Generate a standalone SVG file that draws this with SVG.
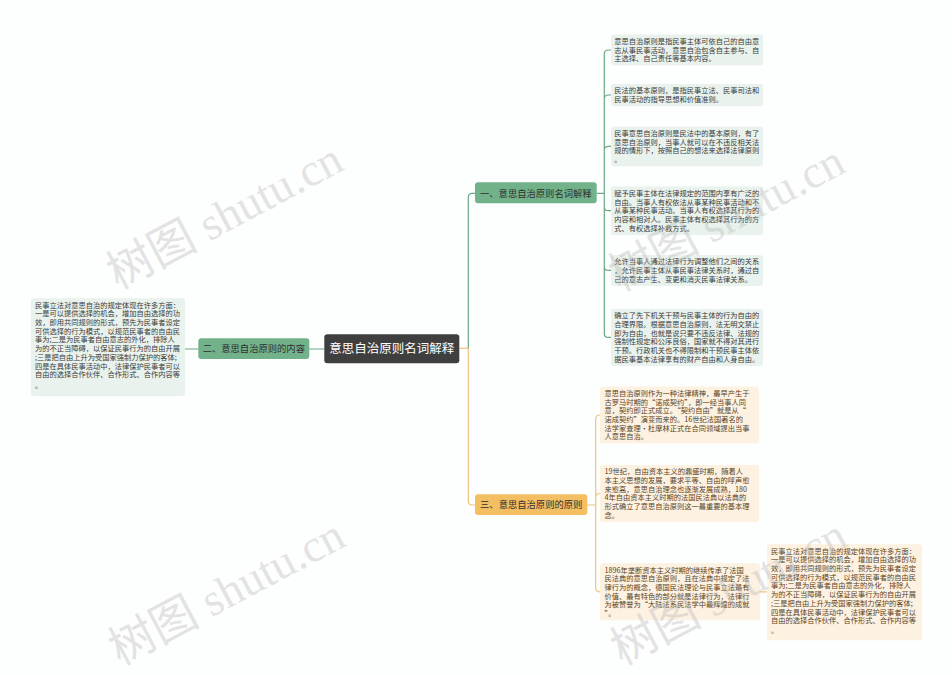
<svg xmlns="http://www.w3.org/2000/svg" width="952" height="675" viewBox="0 0 952 675">
<style>
.t{font-family:"Noto Sans CJK SC","Noto Sans",sans-serif;font-size:7.25px}
.tg{fill:#3a3a3a}
.to{fill:#5a4322}
.lg{fill:#e9f2ec}
.lo{fill:#fdf1e1}
.bt{font-family:"Noto Sans CJK SC","Noto Sans",sans-serif;font-size:9.3px;fill:#2f2f2f;text-anchor:middle}
.cg{fill:none;stroke:#6aa886;stroke-width:1.2}
.co{fill:none;stroke:#efc47e;stroke-width:1.2}
.wm{font-family:"Liberation Serif","Noto Sans CJK SC",serif;font-size:46px;fill:#b8b8b8;fill-opacity:0.4}
</style>
<rect width="952" height="675" fill="#fdfefe"/>
<g id="connectors">
<path class="co" d="M459.3,348.3 H468.3"/>
<path class="cg" d="M468.3,348.3 V197.3 Q468.3,193.3 472.3,193.3 H475"/>
<path class="co" d="M468.3,348.3 V501 Q468.3,505 472.3,505 H475"/>
<path class="cg" d="M324.3,349 H309.3 M198.3,349 H184.7"/>
<path class="cg" d="M596.7,193.3 H604.3 M604.3,193.3 V54 Q604.3,50 608.3,50 H611 M604.3,193.3 V99 Q604.3,95 608.3,95 H611 M604.3,193.3 V150.3 Q604.3,146.3 608.3,146.3 H611 M604.3,193.3 V206.7 Q604.3,210.7 608.3,210.7 H611 M604.3,193.3 V266.4 Q604.3,270.4 608.3,270.4 H611 M604.3,193.3 V333.4 Q604.3,337.4 608.3,337.4 H611"/>
<path class="co" d="M587.3,505 H595.7 M595.7,505 V419 Q595.7,415 599.7,415 H600 M595.7,505 V497.5 Q595.7,493.5 599.7,493.5 H600 M595.7,505 V587.8 Q595.7,591.8 599.7,591.8 H600 M760,591.8 H767"/>
</g>
<g id="center">
<rect x="324.3" y="334.3" width="135" height="29" rx="3" fill="#3f3f3f"/>
<text x="391.8" y="353.4" font-family="Noto Sans CJK SC,Noto Sans,sans-serif" font-size="12.5" fill="#ffffff" text-anchor="middle">意思自治原则名词解释</text>
</g>
<g id="branch1">
<rect x="475" y="182.3" width="121.7" height="21" rx="3" fill="#72b28a"/>
<text class="bt" x="535.8" y="196.6">一、意思自治原则名词解释</text>
</g>
<g id="branch2">
<rect x="198.3" y="338.3" width="111" height="20.7" rx="3" fill="#72b28a"/>
<text class="bt" x="253.8" y="352.3">二、意思自治原则的内容</text>
</g>
<g id="branch3">
<rect x="475" y="494.3" width="112.3" height="20.7" rx="3" fill="#f4be62"/>
<text class="bt" x="531.2" y="508.3">三、意思自治原则的原则</text>
</g>
<g id="leaf1">
<rect class="lg" x="611" y="34.5" width="152" height="31" rx="3"/>
<text class="t tg"><tspan x="614.3" y="43.9">意思自治原则是指民事主体可依自己的自由意</tspan><tspan x="614.3" y="52.6">志从事民事活动，意思自治包含自主参与、自</tspan><tspan x="614.3" y="61.3">主选择、自己责任等基本内容。</tspan></text>
</g>
<g id="leaf2">
<rect class="lg" x="611" y="83.9" width="152" height="22.3" rx="3"/>
<text class="t tg"><tspan x="614.3" y="93.3">民法的基本原则，是指民事立法、民事司法和</tspan><tspan x="614.3" y="102">民事活动的指导思想和价值准则。</tspan></text>
</g>
<g id="leaf3">
<rect class="lg" x="611" y="126.5" width="152" height="39.7" rx="3"/>
<text class="t tg"><tspan x="614.3" y="135.9">民事意思自治原则是民法中的基本原则，有了</tspan><tspan x="614.3" y="144.6">意思自治原则，当事人就可以在不违反相关法</tspan><tspan x="614.3" y="153.3">规的情形下，按照自己的想法来选择法律原则</tspan><tspan x="614.3" y="162">。</tspan></text>
</g>
<g id="leaf4">
<rect class="lg" x="611" y="186.5" width="152" height="48.4" rx="3"/>
<text class="t tg"><tspan x="614.3" y="195.9">赋予民事主体在法律规定的范围内享有广泛的</tspan><tspan x="614.3" y="204.6">自由。当事人有权依法从事某种民事活动和不</tspan><tspan x="614.3" y="213.3">从事某种民事活动。当事人有权选择其行为的</tspan><tspan x="614.3" y="222">内容和相对人。民事主体有权选择其行为的方</tspan><tspan x="614.3" y="230.7">式、有权选择补救方式。</tspan></text>
</g>
<g id="leaf5">
<rect class="lg" x="611" y="254.9" width="152" height="31" rx="3"/>
<text class="t tg"><tspan x="614.3" y="264.3">允许当事人通过法律行为调整他们之间的关系</tspan><tspan x="614.3" y="273">，允许民事主体从事民事法律关系时，通过自</tspan><tspan x="614.3" y="281.7">己的意志产生、变更和消灭民事法律关系。</tspan></text>
</g>
<g id="leaf6">
<rect class="lg" x="611" y="308.9" width="152" height="57.1" rx="3"/>
<text class="t tg"><tspan x="614.3" y="318.3">确立了先下机关干预与民事主体的行为自由的</tspan><tspan x="614.3" y="327">合理界限。根据意思自治原则，法无明文禁止</tspan><tspan x="614.3" y="335.7">即为自由，也就是说只要不违反法律、法规的</tspan><tspan x="614.3" y="344.4">强制性规定和公序良俗，国家就不得对其进行</tspan><tspan x="614.3" y="353.1">干预。行政机关也不得限制和干预民事主体依</tspan><tspan x="614.3" y="361.8">据民事基本法律享有的财产自由和人身自由。</tspan></text>
</g>
<g id="leaf7">
<rect class="lo" x="600" y="386.5" width="159" height="57.1" rx="3"/>
<text class="t to"><tspan x="604.5" y="395.9">意思自治原则作为一种法律精神，最早产生于</tspan><tspan x="604.5" y="404.6">古罗马时期的“诺成契约”，即一经当事人同</tspan><tspan x="604.5" y="413.3">意，契约即正式成立。“契约自由”就是从“</tspan><tspan x="604.5" y="422">诺成契约”演变而来的。16世纪法国著名的</tspan><tspan x="604.5" y="430.7">法学家查理·杜摩林正式在合同领域提出当事</tspan><tspan x="604.5" y="439.4">人意思自治。</tspan></text>
</g>
<g id="leaf8">
<rect class="lo" x="600" y="464.9" width="159" height="57.1" rx="3"/>
<text class="t to"><tspan x="604.5" y="474.3">19世纪，自由资本主义的鼎盛时期，随着人</tspan><tspan x="604.5" y="483">本主义思想的发展，要求平等、自由的呼声愈</tspan><tspan x="604.5" y="491.7">来愈高，意思自治理念也逐渐发展成熟，180</tspan><tspan x="604.5" y="500.4">4年自由资本主义时期的法国民法典以法典的</tspan><tspan x="604.5" y="509.1">形式确立了意思自治原则这一最重要的基本理</tspan><tspan x="604.5" y="517.8">念。</tspan></text>
</g>
<g id="leaf9">
<rect class="lo" x="600" y="563.2" width="160" height="57.1" rx="3"/>
<text class="t to"><tspan x="604.5" y="572.6">1896年垄断资本主义时期的继续传承了法国</tspan><tspan x="604.5" y="581.3">民法典的意思自治原则，且在法典中规定了法</tspan><tspan x="604.5" y="590">律行为的概念，德国民法理论与民事立法最有</tspan><tspan x="604.5" y="598.7">价值、最有特色的部分就是法律行为，法律行</tspan><tspan x="604.5" y="607.4">为被赞誉为“大陆法系民法学中最辉煌的成就</tspan><tspan x="604.5" y="616.1">”。</tspan></text>
</g>
<g id="leaf10">
<rect class="lo" x="767" y="544.2" width="155" height="96" rx="3"/>
<text class="t to"><tspan x="771" y="553.6">民事立法对意思自治的规定体现在许多方面：</tspan><tspan x="771" y="562.3">一是可以提供选择的机会，增加自由选择的功</tspan><tspan x="771" y="571">效，即用共同规则的形式，预先为民事者设定</tspan><tspan x="771" y="579.7">可供选择的行为模式，以规范民事者的自由民</tspan><tspan x="771" y="588.4">事为;二是为民事者自由意志的外化，排除人</tspan><tspan x="771" y="597.1">为的不正当障碍，以保证民事行为的自由开展</tspan><tspan x="771" y="605.8">;三是把自由上升为受国家强制力保护的客体;</tspan><tspan x="771" y="614.5">四是在具体民事活动中，法律保护民事者可以</tspan><tspan x="771" y="623.2">自由的选择合作伙伴、合作形式、合作内容等</tspan><tspan x="771" y="632.5">。</tspan></text>
</g>
<g id="leafLeft">
<rect class="lg" x="31" y="298.2" width="154" height="98" rx="3"/>
<text class="t tg"><tspan x="35" y="307.6">民事立法对意思自治的规定体现在许多方面：</tspan><tspan x="35" y="316.3">一是可以提供选择的机会，增加自由选择的功</tspan><tspan x="35" y="325">效，即用共同规则的形式，预先为民事者设定</tspan><tspan x="35" y="333.7">可供选择的行为模式，以规范民事者的自由民</tspan><tspan x="35" y="342.4">事为;二是为民事者自由意志的外化，排除人</tspan><tspan x="35" y="351.1">为的不正当障碍，以保证民事行为的自由开展</tspan><tspan x="35" y="359.8">;三是把自由上升为受国家强制力保护的客体;</tspan><tspan x="35" y="368.5">四是在具体民事活动中，法律保护民事者可以</tspan><tspan x="35" y="377.2">自由的选择合作伙伴、合作形式、合作内容等</tspan><tspan x="35" y="388">。</tspan></text>
</g>
<g id="watermarks">
<text class="wm" transform="translate(118,290) rotate(-28)">树图 shutu.cn</text>
<text class="wm" transform="translate(620,292) rotate(-28)">树图 shutu.cn</text>
<text class="wm" transform="translate(120,666) rotate(-28)">树图 shutu.cn</text>
<text class="wm" transform="translate(622,666) rotate(-28)">树图 shutu.cn</text>
</g>
</svg>
